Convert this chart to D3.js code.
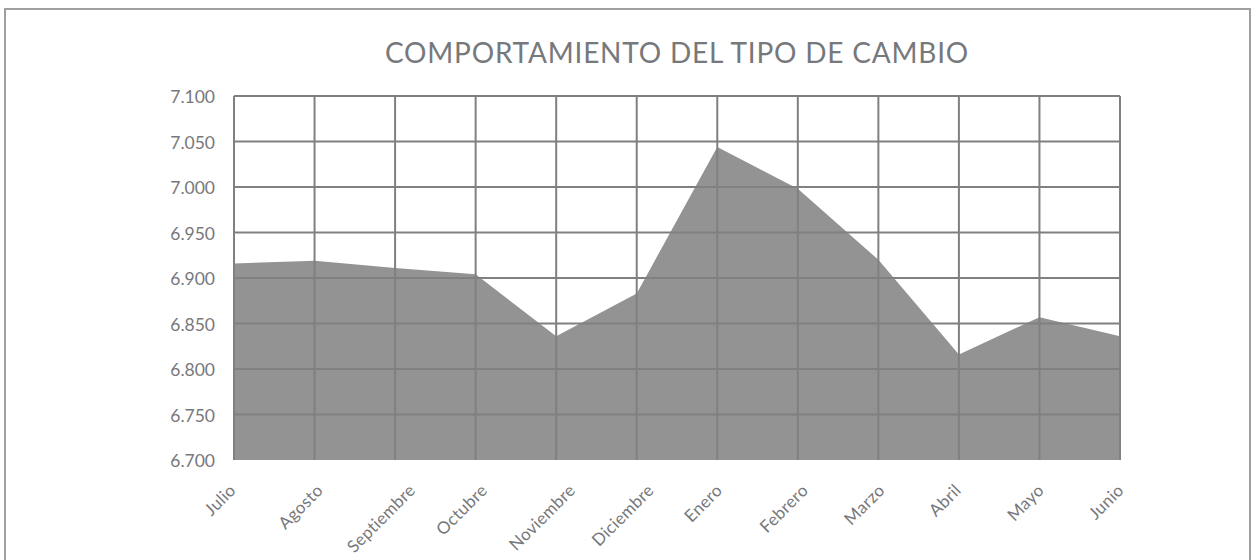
<!DOCTYPE html>
<html>
<head>
<meta charset="utf-8">
<script src="https://cdn.jsdelivr.net/npm/d3@7"></script>
<style>
  body { margin: 0; background: #fff; }
  text { font-family: Lato, "Noto Sans", sans-serif; fill: #77787b; }
</style>
</head>
<body>
<div id="vis"></div>
<script>
// data
var months = ["Julio", "Agosto", "Septiembre", "Octubre", "Noviembre", "Diciembre",
              "Enero", "Febrero", "Marzo", "Abril", "Mayo", "Junio"];
var rate = [6.916, 6.919, 6.911, 6.904, 6.836, 6.883,
            7.044, 6.998, 6.920, 6.816, 6.857, 6.836];
var yTicks = [6.70, 6.75, 6.80, 6.85, 6.90, 6.95, 7.00, 7.05, 7.10];
var title = "COMPORTAMIENTO DEL TIPO DE CAMBIO";

var w = 1256, h = 560;
var plotLeft = 234, plotRight = 1120, plotTop = 96, plotBottom = 460;

var svg = d3.select("#vis").append("svg")
    .attr("width", w)
    .attr("height", h);

// outer frame
svg.append("path")
    .attr("d", "M5," + h + "V9H1250V" + h)
    .attr("fill", "none")
    .attr("stroke", "#a0a0a0")
    .attr("stroke-width", 2);

var x = d3.scalePoint().domain(months).range([plotLeft, plotRight]);
var y = d3.scaleLinear().domain([6.7, 7.1]).range([plotBottom, plotTop]);

svg.append("text")
    .attr("x", (plotLeft + plotRight) / 2)
    .attr("y", 63)
    .attr("text-anchor", "middle")
    .attr("font-size", "28px")
    .attr("letter-spacing", "0.8px")
    .text(title);

// area
var area = d3.area()
    .x(function(d, i) { return x(months[i]); })
    .y0(y(6.7))
    .y1(function(d) { return y(d); });

svg.append("path")
    .datum(rate)
    .attr("d", area)
    .attr("fill", "#939394");

// grid on top of area
svg.selectAll("line.h")
   .data(yTicks.slice(1))
   .enter()
   .append("line")
   .attr("class", "h")
   .attr("x1", plotLeft).attr("x2", plotRight)
   .attr("y1", function(d) { return y(d); })
   .attr("y2", function(d) { return y(d); })
   .attr("stroke", "#808082")
   .attr("stroke-width", 2);

svg.selectAll("line.v")
   .data(months)
   .enter()
   .append("line")
   .attr("class", "v")
   .attr("x1", function(d) { return x(d); })
   .attr("x2", function(d) { return x(d); })
   .attr("y1", plotTop).attr("y2", plotBottom)
   .attr("stroke", "#808082")
   .attr("stroke-width", 2);

// y labels
svg.selectAll("text.yl")
   .data(yTicks)
   .enter()
   .append("text")
   .attr("class", "yl")
   .attr("x", 215)
   .attr("y", function(d) { return y(d) + 7; })
   .attr("text-anchor", "end")
   .attr("font-size", "17.5px")
   .text(function(d) { return d3.format(".3f")(d); });

// x labels: centred a bit left of the tick, tops lined up
svg.selectAll("text.xl")
   .data(months)
   .enter()
   .append("text")
   .attr("class", "xl")
   .attr("text-anchor", "middle")
   .attr("dy", "0.35em")
   .attr("font-size", "17px")
   .attr("letter-spacing", "0.3px")
   .text(function(d) { return d; })
   .attr("transform", function(d) {
       var len = this.getComputedTextLength();
       var cy = 483 + 0.707 * (len / 2 + 6);
       return "translate(" + (x(d) - 14) + "," + cy + ") rotate(-45)";
   });
</script>
</body>
</html>
